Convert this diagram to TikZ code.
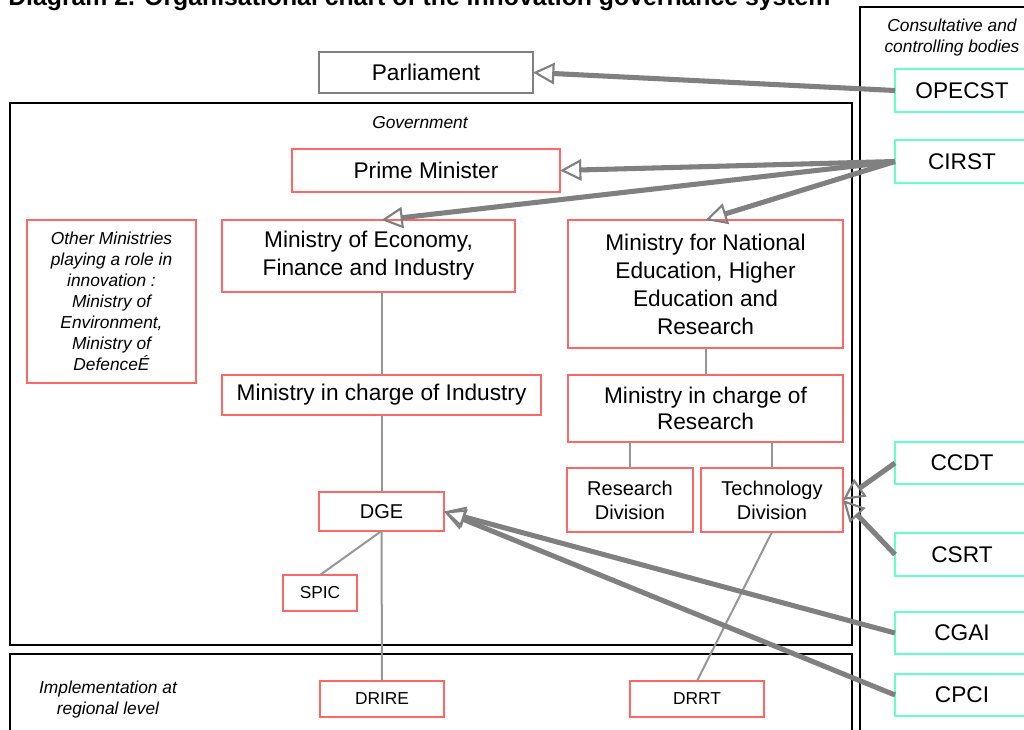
\documentclass[tikz,border=0pt]{standalone}
\usepackage{fontspec}
\setmainfont{Liberation Sans}
\usetikzlibrary{arrows.meta}
\definecolor{boxred}{HTML}{FF6666}
\definecolor{boxteal}{HTML}{66FFCC}
\definecolor{linkgray}{HTML}{808080}
\definecolor{treegray}{HTML}{969696}
\begin{document}
\begin{tikzpicture}[x=0.75pt,y=-0.75pt,
  sz/.style 2 args={minimum width=#1*0.75pt,minimum height=#2*0.75pt},
  box/.style={rectangle,inner sep=0pt,outer sep=0pt,fill=white,line width=2pt,align=center,text=black},
  redbox/.style={box,draw=boxred},
  tealbox/.style={box,draw=boxteal,font=\fontsize{17}{21}\selectfont},
  graybox/.style={box,draw=linkgray},
  big/.style={font=\fontsize{17}{21}\selectfont},
  mid/.style={font=\fontsize{15}{18}\selectfont},
  small/.style={font=\fontsize{13}{15.75}\selectfont},
  note/.style={inner sep=0pt,align=center,font=\fontsize{13}{15.75}\selectfont\itshape},
  frame/.style={draw=black,line width=1.5pt},
  tree/.style={draw=treegray,line width=1.5pt},
  feed/.style={draw=linkgray,line width=3.8pt,
    -{Triangle[open,length=16pt,width=16pt,line width=1.6pt]}}
]
\useasboundingbox (0,0) rectangle (1024,729);
\clip (0,0) rectangle (1024,729);

% title (runs off the top edge)
\node[anchor=base west,inner sep=0pt,font=\fontsize{18.6}{22}\selectfont\bfseries]
  (title) at (8,5) {Diagram 2. Organisational chart of the innovation governance system};

% enclosing frames
\draw[frame] (10,103) rectangle (852,645);
\draw[frame] (10,654) rectangle (852,760);
\draw[frame] (860,7) rectangle (1040,760);

\node[note] (govlabel) at (420,123) {Government};
\node[note] (conslabel) at (952,38) {Consultative and\\controlling bodies};
\node[note] (impllabel) at (108,700) {Implementation at\\regional level};

% parliament and government
\node[graybox,big,sz={214}{41}] (parl) at (426,72.5) {Parliament};
\node[redbox,big,sz={268}{43}] (pm) at (426,170.5) {Prime Minister};
\node[redbox,sz={169}{163},font=\fontsize{13}{15.75}\selectfont\itshape] (other) at (111.5,301.5)
  {Other Ministries\\playing a role in\\innovation :\\Ministry of\\Environment,\\Ministry of\\DefenceÉ};
\node[redbox,big,sz={293}{72}] (moefi) at (368.5,256) {Ministry of Economy,\\Finance and Industry};
\node[redbox,big,sz={275}{128}] (mneher) at (705.5,284)
  {Ministry for National\\Education, Higher\\Education and\\Research};
\node[redbox,big,sz={319}{40}] (mind) at (381.5,395) {Ministry in charge of Industry};
\node[redbox,font=\fontsize{17}{19.5}\selectfont,sz={275}{67}] (mres) at (705.5,408.5)
  {Ministry in charge of\\Research};
\node[redbox,mid,sz={126}{64}] (rdiv) at (630,500) {Research\\Division};
\node[redbox,mid,sz={142}{64}] (tdiv) at (772,500) {Technology\\Division};
\node[redbox,mid,sz={125}{39}] (dge) at (381.5,511.5) {DGE};
\node[redbox,small,sz={74}{36}] (spic) at (320,593) {SPIC};

% regional level
\node[redbox,small,sz={124}{36}] (drire) at (382,699) {DRIRE};
\node[redbox,small,sz={134}{36}] (drrt) at (697,699) {DRRT};

% consultative and controlling bodies
\node[tealbox,sz={134}{43}] (opecst) at (962,90.5) {OPECST};
\node[tealbox,sz={134}{43}] (cirst) at (962,161.5) {CIRST};
\node[tealbox,sz={134}{42}] (ccdt) at (962,463) {CCDT};
\node[tealbox,sz={134}{43}] (csrt) at (962,554.5) {CSRT};
\node[tealbox,sz={134}{42}] (cgai) at (962,633) {CGAI};
\node[tealbox,sz={134}{42}] (cpci) at (962,695) {CPCI};

% hierarchy lines
\draw[tree] (moefi.south -| dge.north) -- (mind.north -| dge.north);
\draw[tree] (mind.south -| dge.north) -- (dge.north);
\draw[tree] (dge.south) -- (drire.north);
\draw[tree] (dge.south) -- (spic.north);
\draw[tree] (mneher.south) -- (mres.north);
\draw[tree] (mres.south -| rdiv.north) -- (rdiv.north);
\draw[tree] (mres.south -| tdiv.north) -- (tdiv.north);
\draw[tree] (tdiv.south) -- (drrt.north);

% advisory links
\draw[feed] (opecst.west) -- (parl.east);
\draw[feed] (cirst.west) -- (pm.east);
\draw[feed] (cirst.west) -- (moefi.north -| dge.north);
\draw[feed] (cirst.west) -- (mneher.north);
\draw[feed] (ccdt.west) -- (tdiv.east);
\draw[feed] (csrt.west) -- (tdiv.east);
\draw[feed] (cgai.west) -- (dge.east);
\draw[feed] (cpci.west) -- (dge.east);
\end{tikzpicture}
\end{document}
